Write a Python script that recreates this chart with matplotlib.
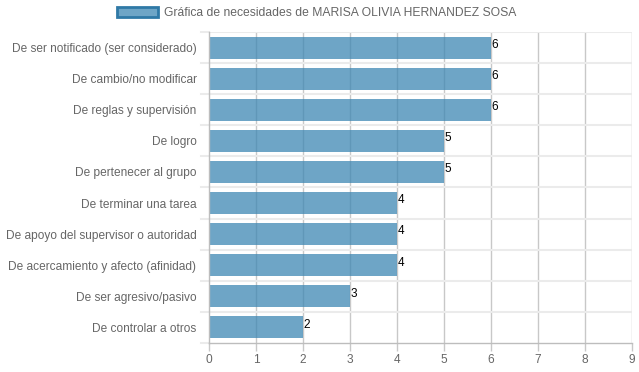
import matplotlib
matplotlib.use("Agg")
import matplotlib.pyplot as plt
from matplotlib.patches import Patch

categories = [
    "De ser notificado (ser considerado)",
    "De cambio/no modificar",
    "De reglas y supervisión",
    "De logro",
    "De pertenecer al grupo",
    "De terminar una tarea",
    "De apoyo del supervisor o autoridad",
    "De acercamiento y afecto (afinidad)",
    "De ser agresivo/pasivo",
    "De controlar a otros",
]
values = [6, 6, 6, 5, 5, 4, 4, 4, 3, 2]
xticks = list(range(0, 10))
legend_label = "Gráfica de necesidades de MARISA OLIVIA HERNANDEZ SOSA"

plt.rcParams['font.family'] = ['Liberation Sans', 'DejaVu Sans']

fig = plt.figure(figsize=(6.39, 3.72), dpi=100)
W, H = 639, 372
left, right, top, bottom = 209, 632, 32, 343
ax = fig.add_axes([left / W, 1 - bottom / H, (right - left) / W, (bottom - top) / H])

n = len(categories)
ypos = list(range(n))
face = (0.24, 0.53, 0.70, 0.75)
ax.barh(ypos, values, height=0.71, color=face, edgecolor='none', zorder=2)

ax.set_xlim(0, 9)
ax.set_ylim(n - 0.5, -0.5)
ax.set_xticks(xticks)
ax.set_yticks(ypos)
ax.set_yticklabels(categories)

# grid lines
for x in xticks[1:]:
    ax.axvline(x, color='#c8c8c8', lw=1, zorder=1)
for i in range(n):
    ax.axhline(i - 0.5, color='#ebebeb', lw=1.5, zorder=1)

for s in ['top', 'right']:
    ax.spines[s].set_visible(False)
for s in ['left', 'bottom']:
    ax.spines[s].set_color('#bdbdbd')
    ax.spines[s].set_linewidth(1)

ax.tick_params(axis='x', colors='#c8c8c8', labelcolor='#666666', labelsize=8.6, length=6, width=1, pad=2)
ax.tick_params(axis='y', length=0, labelcolor='#666666', labelsize=8.6, pad=9)
for i in range(n + 1):
    ax.plot([-0.18, 0], [i - 0.5, i - 0.5], color='#ebebeb', lw=1.5, clip_on=False, zorder=1)

for i, v in enumerate(values):
    ax.text(v + 0.01, i - 0.28, str(v), fontsize=8.5, color='black', va='top', ha='left',
            zorder=3)

handle = Patch(facecolor=face, edgecolor='#2f79a6', linewidth=2)
fig.legend([handle], [legend_label], loc='upper center', bbox_to_anchor=(0.495, 1.01),
           frameon=False, fontsize=8.7, labelcolor='#666666', handlelength=3.4, handleheight=0.9,
           handletextpad=0.5)

fig.savefig('out.png', dpi=100)
